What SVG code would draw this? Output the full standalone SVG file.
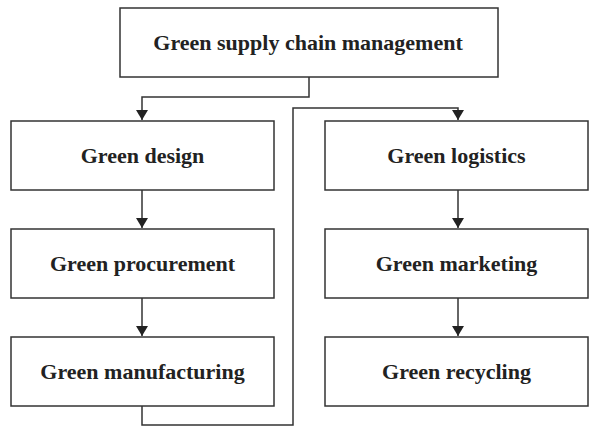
<svg xmlns="http://www.w3.org/2000/svg" width="600" height="431" viewBox="0 0 600 431">
<style>
.box{fill:#fff;stroke:#333;stroke-width:1.5}
.lbl{font-family:"Liberation Serif","Times New Roman",serif;font-weight:bold;font-size:22px;fill:#222;text-anchor:middle;dominant-baseline:central}
.con{fill:none;stroke:#333;stroke-width:1.5}
</style>
<defs>
<marker id="ah" viewBox="0 0 10 12" refX="10" refY="6" markerWidth="12" markerHeight="12" markerUnits="userSpaceOnUse" orient="auto">
<path d="M0,0 L10,6 L0,12 Z" fill="#222"/>
</marker>
</defs>
<rect width="600" height="431" fill="#fff"/>
<g id="connectors">
<path class="con" d="M309,77 V97 H142 V120" marker-end="url(#ah)"/>
<path class="con" d="M142,190 V228" marker-end="url(#ah)"/>
<path class="con" d="M142,298 V336" marker-end="url(#ah)"/>
<path class="con" d="M142,406 V425 H293 V108 H458 V120" marker-end="url(#ah)"/>
<path class="con" d="M458,190 V228" marker-end="url(#ah)"/>
<path class="con" d="M458,298 V336" marker-end="url(#ah)"/>
</g>
<g id="gscm"><rect class="box" x="120" y="8" width="378" height="69"/><text class="lbl" x="308" y="42">Green supply chain management</text></g>
<g id="design"><rect class="box" x="11" y="121" width="263" height="69"/><text class="lbl" x="142.5" y="155">Green design</text></g>
<g id="procurement"><rect class="box" x="11" y="229" width="263" height="69"/><text class="lbl" x="142.5" y="263">Green procurement</text></g>
<g id="manufacturing"><rect class="box" x="11" y="337" width="263" height="69"/><text class="lbl" x="142.5" y="371">Green manufacturing</text></g>
<g id="logistics"><rect class="box" x="325" y="121" width="263" height="69"/><text class="lbl" x="456.5" y="155">Green logistics</text></g>
<g id="marketing"><rect class="box" x="325" y="229" width="263" height="69"/><text class="lbl" x="456.5" y="263">Green marketing</text></g>
<g id="recycling"><rect class="box" x="325" y="337" width="263" height="69"/><text class="lbl" x="456.5" y="371">Green recycling</text></g>
</svg>
